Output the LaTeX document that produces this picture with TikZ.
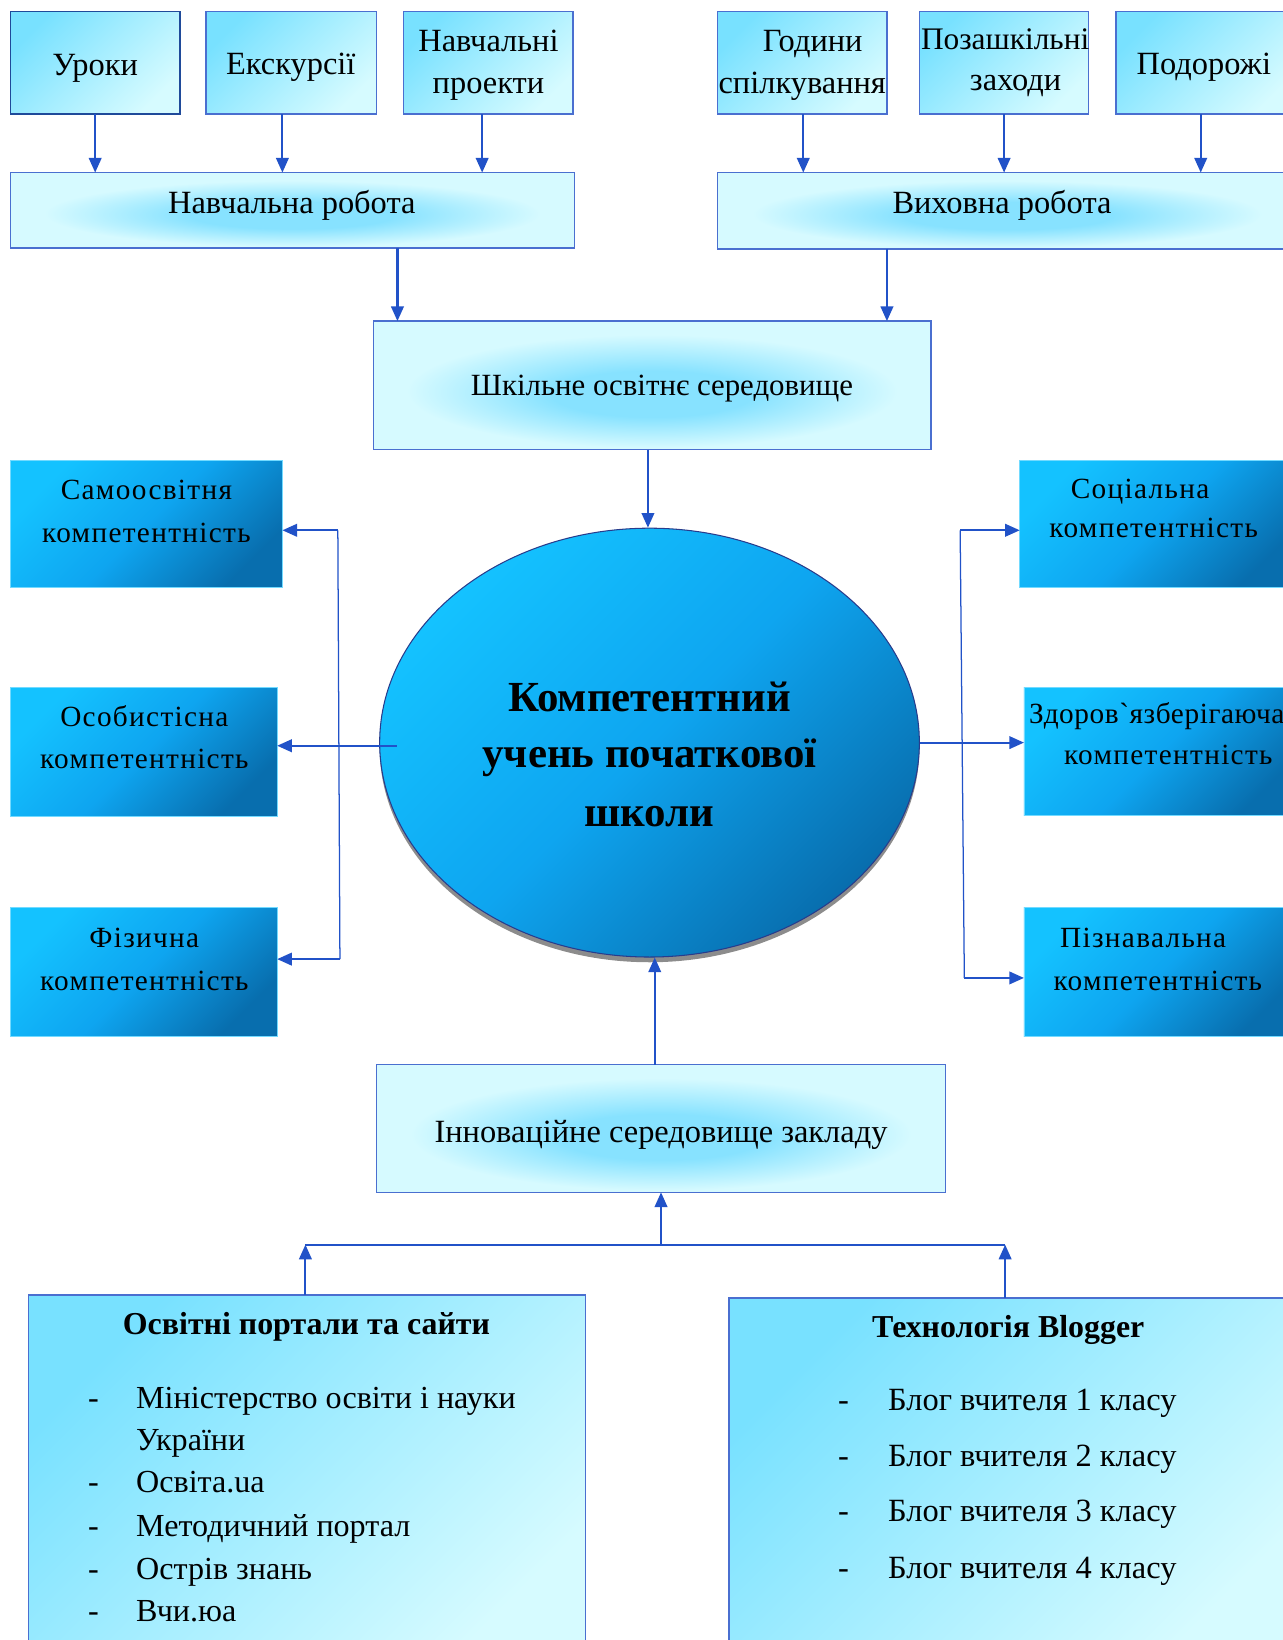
\documentclass[tikz,border=0pt]{standalone}
\usepackage{fontspec}
\setmainfont{Liberation Serif}
\newfontfamily\spfont[LetterSpace=4.5]{Liberation Serif}
\newfontfamily\spbfont[LetterSpace=2]{Liberation Serif}
\usetikzlibrary{arrows.meta,shadows,shapes.geometric}

\definecolor{arrblue}{RGB}{33,82,200}
\definecolor{bordblue}{RGB}{74,111,208}
\definecolor{darkbord}{RGB}{31,74,154}
\definecolor{lightA}{RGB}{120,225,255}
\definecolor{lightB}{RGB}{214,251,255}
\definecolor{glowA}{RGB}{214,250,255}
\definecolor{glowB}{RGB}{135,226,255}
\definecolor{blueA}{RGB}{20,194,255}
\definecolor{blueM}{RGB}{14,165,240}
\definecolor{blueB}{RGB}{8,110,174}
\definecolor{ellbord}{RGB}{40,60,140}

\pgfdeclareradialshading{myglow}{\pgfpoint{0bp}{-4bp}}{color(0bp)=(glowB); color(9bp)=(glowB); color(22bp)=(glowA); color(50bp)=(glowA)}

\tikzset{
 lightbox/.style={draw=bordblue, line width=1.3pt, top color=lightA, bottom color=lightB, shading angle=45, inner sep=0pt, outer sep=0pt},
 glowbox/.style={draw=bordblue, line width=1.3pt, shading=myglow, inner sep=0pt, outer sep=0pt},
 bluebox/.style={draw=blueA!60!white, line width=0.8pt, top color=blueA, bottom color=blueB, middle color=blueM, shading angle=45, inner sep=0pt, outer sep=0pt},
 arr/.style={draw=arrblue, line width=2pt, -{Triangle[length=14pt,width=12pt]}},
 hline/.style={draw=arrblue, line width=2pt},
 brk/.style={draw=arrblue, line width=1.2pt},
 tx/.style={anchor=base, inner sep=0pt, font=\fontsize{31}{36}\selectfont},
 stx/.style={anchor=base, inner sep=0pt, font=\fontsize{28}{34}\spfont},
 etx/.style={anchor=base, inner sep=0pt, font=\fontsize{41}{48}\bfseries},
 btx/.style={anchor=base, inner sep=0pt, font=\fontsize{30.5}{36}\bfseries},
 itm/.style={anchor=base west, inner sep=0pt, font=\fontsize{30.7}{36}\selectfont},
 bitm/.style={anchor=base west, inner sep=0pt, font=\fontsize{31}{36}\selectfont},
}

\newcommand\bx[6]{\node[#2, minimum width={#5-#3}, minimum height={#6-#4}] (#1) at ({(#3+#5)/2},{(#4+#6)/2}) {};}

\begin{document}
\begin{tikzpicture}[x=1pt,y=-1pt]
\fill[white] (0,0) rectangle (1226,1568);
\useasboundingbox (0,0) rectangle (1226,1568);

% top row
\bx{uroky}{lightbox, draw=darkbord, line width=1.8pt}{10}{11}{172}{109}
\bx{eksk}{lightbox}{197}{11}{360}{109}
\bx{nproj}{lightbox}{386}{11}{548}{109}
\bx{hod}{lightbox}{686}{11}{848}{109}
\bx{poza}{lightbox}{879}{11}{1041}{109}
\bx{podor}{lightbox}{1067}{11}{1240}{109}
% second row
\bx{nr}{glowbox}{10}{165}{549}{237}
\bx{vr}{glowbox}{686}{165}{1240}{238}
\bx{shk}{glowbox}{357}{307}{890}{430}
% competences
\bx{samo}{bluebox}{10}{440}{270}{562}
\bx{osob}{bluebox}{10}{657}{265}{781}
\bx{fiz}{bluebox}{10}{868}{265}{991}
\bx{soc}{bluebox}{975}{440}{1240}{562}
\bx{zdor}{bluebox}{979}{657}{1240}{780}
\bx{pizn}{bluebox}{979}{868}{1240}{991}
% centre ellipse
\node[ellipse, draw=ellbord, line width=1pt, minimum width=516, minimum height=410,
      top color=blueA, bottom color=blueB, middle color=blueM, shading angle=45,
      drop shadow={shadow xshift=0pt, shadow yshift=-5pt, fill=black, opacity=0.45}] (ell) at (621,710) {};
% bottom
\bx{innov}{glowbox}{360}{1018}{904}{1140}
\bx{port}{lightbox}{27}{1238}{560}{1590}
\bx{blog}{lightbox}{697}{1241}{1240}{1590}

% texts
\node[tx] (t1) at (91,72) {Уроки};
\node[tx] (t2) at (278,71) {Екскурсії};
\node[tx] (t3a) at (467,49) {Навчальні};
\node[tx] (t3b) at (467,89) {проекти};
\node[tx] (t4a) at (777,49) {Години};
\node[tx] (t4b) at (767,89) {спілкування};
\node[tx, font=\fontsize{30}{36}\selectfont] (t5a) at (961,47) {Позашкільні};
\node[tx] (t5b) at (971,87) {заходи};
\node[tx] (t6) at (1151,71) {Подорожі};
\node[tx] (t7) at (279,204) {Навчальна робота};
\node[tx] (t8) at (958,204) {Виховна робота};
\node[tx, font=\fontsize{29.5}{36}\selectfont] (t9) at (633,378) {Шкільне освітнє середовище};

\node[stx] (c1a) at (140,478) {Самоосвітня};
\node[stx] (c1b) at (140,519) {компетентність};
\node[stx] (c2a) at (138,695) {Особистісна};
\node[stx] (c2b) at (138,735) {компетентність};
\node[stx] (c3a) at (138,906) {Фізична};
\node[stx] (c3b) at (138,947) {компетентність};
\node[stx] (c4a) at (1090,477) {Соціальна};
\node[stx] (c4b) at (1103,514) {компетентність};
\node[stx, font=\fontsize{28}{34}\spbfont] (c5a) at (1106,692) {Здоров`язберігаюча};
\node[stx] (c5b) at (1117,731) {компетентність};
\node[stx] (c6a) at (1093,906) {Пізнавальна};
\node[stx] (c6b) at (1107,947) {компетентність};

\node[etx] (e1) at (621,680) {Компетентний};
\node[etx] (e2) at (621,734) {учень початкової};
\node[etx] (e3) at (621,790) {школи};

\node[tx] (t10) at (632,1092) {Інноваційне середовище закладу};

\node[btx] (pt) at (293,1276) {Освітні портали та сайти};
\node[btx] (bt) at (964,1279) {Технологія Blogger};

\foreach \yy/\t [count=\i] in {1347/Міністерство освіти і науки, 1427/Освіта.ua, 1469/Методичний портал, 1510/Острів знань, 1550/Вчи.юа}{
  \node[itm] (pd\i) at (84,\yy) {-};
  \node[itm] (pi\i) at (130,\yy) {\t};
}
\node[itm] (pi0) at (130,1387) {України};
\foreach \yy [count=\i] in {1349,1402,1455,1509}{
  \node[bitm] (bd\i) at (801,\yy) {-};
  \node[bitm] (bi\i) at (849,\yy) {Блог вчителя \i\ класу};
}

% connectors top
\coordinate (a1) at (uroky.south);
\coordinate (a2) at ([xshift=-8.5pt]eksk.south);
\coordinate (a3) at ([xshift=-6pt]nproj.south);
\draw[arr] (a1) -- (a1 |- nr.north);
\draw[arr] (a2) -- (a2 |- nr.north);
\draw[arr] (a3) -- (a3 |- nr.north);
\coordinate (a4) at ([xshift=1pt]hod.south);
\coordinate (a5) at (poza.south);
\coordinate (a6) at ([xshift=-5.5pt]podor.south);
\draw[arr] (a4) -- (a4 |- vr.north);
\draw[arr] (a5) -- (a5 |- vr.north);
\draw[arr] (a6) -- (a6 |- vr.north);
\coordinate (a7) at ([xshift=100.5pt]nr.south);
\coordinate (a8) at ([xshift=-115pt]vr.south);
\draw[arr] (a7) -- (a7 |- shk.north);
\draw[arr] (a8) -- (a8 |- shk.north);
\coordinate (a9) at ([xshift=-4pt]shk.south);
\draw[arr] (a9) -- (a9 |- ell.north);

% left bracket
\coordinate (lt) at (323,507);
\coordinate (lb) at (325,917);
\coordinate (lm) at ([xshift=17pt,yshift=-3pt]ell.west);
\draw[brk] (lt) -- (lb);
\draw[arr] (lt) -- (lt -| samo.east);
\draw[arr] (lb) -- (lb -| fiz.east);
\draw[arr] (lm) -- (lm -| osob.east);
% right bracket
\coordinate (rt) at (918,507);
\coordinate (rb) at (922,935);
\draw[brk] (rt) -- (rb);
\draw[arr] (rt) -- (rt -| soc.west);
\draw[arr] (rb) -- (rb -| pizn.west);
\draw[arr] (ell.east) -- (ell.east -| zdor.west);

% bottom
\coordinate (a10) at ([xshift=-6pt]innov.north);
\draw[arr] (a10) -- (a10 |- ell.south);
\coordinate (hl) at (292,1190);
\coordinate (hr) at (961,1190);
\coordinate (hm) at (innov.south |- hl);
\draw[hline] (hl) -- (hr);
\draw[arr] (hm) -- (innov.south);
\draw[arr] (hl |- port.north) -- (hl);
\draw[arr] (hr |- blog.north) -- (hr);
\end{tikzpicture}
\end{document}
